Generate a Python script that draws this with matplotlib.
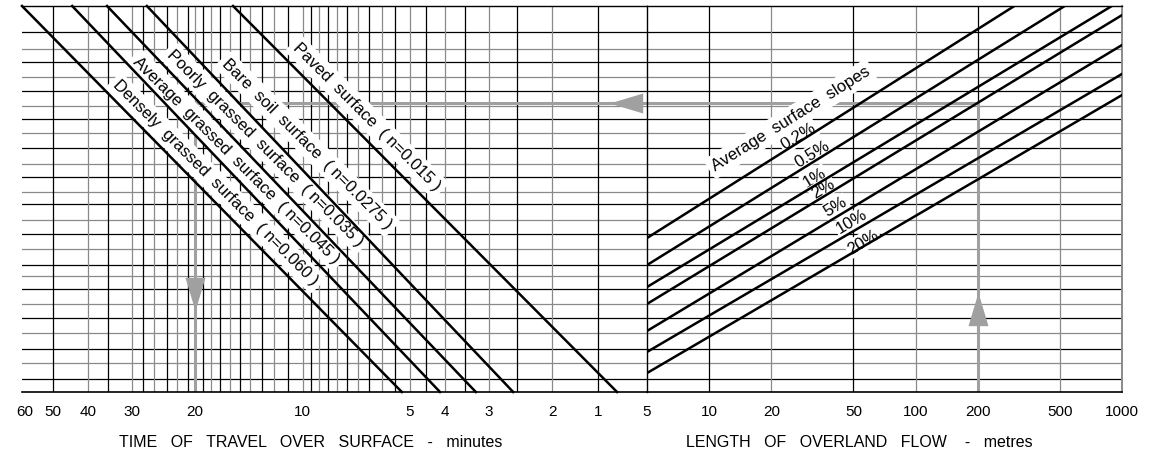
import numpy as np
import matplotlib.pyplot as plt

plt.rcParams['font.family'] = ['Liberation Sans', 'DejaVu Sans']

# ---- data read off the nomograph ----
# left panel: time of travel (minutes), log scale running right to left
time_limits = [61.1, 1.084]
time_ticks = [60, 50, 40, 30, 20, 10, 5, 4, 3, 2, 1.49]
time_tick_labels = ['60', '50', '40', '30', '20', '10', '5', '4', '3', '2', '1']
time_grid = [50, 40, 35, 30, 28, 26, 24, 22.5, 21, 20, 19, 18, 17, 16, 15, 14, 13,
             12, 11, 10, 9.5, 9, 8.5, 8, 7.5, 7, 6.5, 6, 5.5, 5, 4.5, 4, 3.5, 3,
             2.5, 2, 1.49]

# right panel: length of overland flow (metres)
length_limits = [5, 1000]
length_ticks = [5, 10, 20, 50, 100, 200, 500, 1000]
length_grid = [10, 20, 50, 100, 200, 500]

# shared (unlabelled) vertical scale
y_top = 26.7
rows = [0.9, 2.0, 3.0, 4.1, 5.1, 6.1, 7.1, 8.0, 8.8, 9.9, 10.9, 11.9, 13.0, 13.8,
        14.9, 15.8, 16.9, 17.9, 18.9, 19.8, 20.8, 21.8, 22.8, 23.7, 24.9]

# surface roughness lines (time at top edge -> time at bottom edge)
surfaces = ['Densely  grassed  surface  ( n=0.060 )',
            'Average  grassed  surface  ( n=0.045 )',
            'Poorly  grassed  surface  ( n=0.035 )',
            'Bare  soil  surface  ( n=0.0275 )',
            'Paved  surface  ( n=0.015 )']
surf_top_t = [61.1, 44.2, 35.3, 27.3, 15.66]
surf_bot_t = [5.27, 4.12, 3.27, 2.57, 1.315]
surf_lab_t = [17.5, 15.3, 12.7, 9.7, 6.6]
surf_lab_y = [14.45, 16.04, 16.87, 17.15, 19.02]

# average surface slope lines (start at 5 m)
slopes = ['0.2%', '0.5%', '1%', '2%', '5%', '10%', '20%']
slope_start_y = [10.65, 8.78, 7.26, 6.09, 4.22, 2.77, 1.31]
slope_end_L = [301, 528, 893, 1000, 1000, 1000, 1000]
slope_end_y = [26.7, 26.7, 26.7, 26.07, 24.0, 22.0, 20.54]
slope_lab_L = [27.1, 31.7, 32.4, 35.5, 41.1, 49.1, 55.6]
slope_lab_y = [17.70, 16.46, 14.80, 14.04, 12.79, 11.76, 10.37]
slopes_title_L, slopes_title_y = 24.8, 18.88

# worked example path
ex_length, ex_level, ex_time = 200, 20.0, 20

grey = '#a0a0a0'
gridgrey = '#8a8a8a'

fig = plt.figure(figsize=(11.57, 4.54), dpi=100)
W, H = 1157, 454
ax1 = fig.add_axes([22 / W, 62 / H, 625 / W, 386 / H])
ax2 = fig.add_axes([647 / W, 62 / H, 475 / W, 386 / H])

for ax in (ax1, ax2):
    ax.set_xscale('log')
    ax.set_ylim(0, y_top)
    ax.set_yticks([])
    ax.tick_params(axis='x', length=0, pad=9, labelsize=11)
    for i, r in enumerate(rows):
        ax.axhline(r, color='black' if i % 2 == 0 else gridgrey, lw=0.9, zorder=1)
    ax.spines['top'].set_linewidth(1.0)
    ax.spines['bottom'].set_linewidth(1.2)

ax1.set_xlim(*time_limits)
ax1.set_xticks(time_ticks)
ax1.set_xticklabels(time_tick_labels)
ax1.minorticks_off()
ax1.spines['left'].set_visible(False)
ax1.spines['right'].set_visible(False)
for i, t in enumerate(time_grid):
    ax1.axvline(t, color='black' if i % 2 == 0 else gridgrey, lw=0.9, zorder=1)

ax2.set_xlim(*length_limits)
ax2.set_xticks(length_ticks)
ax2.set_xticklabels([str(v) for v in length_ticks])
ax2.minorticks_off()
ax2.spines['left'].set_linewidth(1.0)
ax2.spines['right'].set_color(gridgrey)
ax2.spines['right'].set_linewidth(1.4)
for i, L in enumerate(length_grid):
    ax2.axvline(L, color='black' if i % 2 == 0 else gridgrey, lw=0.9, zorder=1)

# surface lines and labels
for name, t0, t1, tl, yl in zip(surfaces, surf_top_t, surf_bot_t, surf_lab_t, surf_lab_y):
    ax1.plot([t0, t1], [y_top, 0], color='black', lw=1.8, zorder=4, clip_on=False)
    ax1.text(tl, yl, name, rotation=-45, rotation_mode='anchor', ha='center',
             va='center', fontsize=12, zorder=3,
             bbox=dict(boxstyle='round,pad=0.25', fc='white', ec='none'))

# slope lines and labels
for s, y0, L1, y1, lL, ly in zip(slopes, slope_start_y, slope_end_L, slope_end_y,
                                 slope_lab_L, slope_lab_y):
    ax2.plot([5, L1], [y0, y1], color='black', lw=1.8, zorder=4)
    ax2.text(lL, ly, s, rotation=31, rotation_mode='anchor', ha='center',
             va='center', fontsize=12, zorder=3,
             bbox=dict(boxstyle='round,pad=0.1', fc='white', ec='none'))
ax2.text(slopes_title_L, slopes_title_y, 'Average  surface  slopes', rotation=32,
         rotation_mode='anchor', ha='center', va='center', fontsize=12, zorder=3,
         bbox=dict(boxstyle='round,pad=0.25', fc='white', ec='none'))

# worked example (grey path with arrowheads)
ax2.plot([ex_length, ex_length], [0, ex_level], color=grey, lw=2.2, zorder=2)
ax2.plot([length_limits[0], ex_length], [ex_level, ex_level], color=grey, lw=2.2, zorder=2)
ax1.plot([time_limits[1], ex_time], [ex_level, ex_level], color=grey, lw=2.2, zorder=2)
ax1.plot([ex_time, ex_time], [ex_level, 0], color=grey, lw=2.2, zorder=2)

up = [(0, 1), (0.6, -1), (-0.6, -1), (0, 1)]
down = [(0, -1), (0.6, 1), (-0.6, 1), (0, -1)]
left = [(-1, 0), (1, 0.6), (1, -0.6), (-1, 0)]
ax2.plot([ex_length], [5.77], marker=up, ms=24, color=grey, mec='none', zorder=5)
ax1.plot([ex_time], [6.78], marker=down, ms=24, color=grey, mec='none', zorder=5)
ax1.plot([1.238], [ex_level], marker=left, ms=24, color=grey, mec='none', zorder=5,
         clip_on=False)

ax1.text(0.462, -0.13, 'TIME   OF   TRAVEL   OVER   SURFACE   -   minutes',
         transform=ax1.transAxes, ha='center', va='center', fontsize=11.5)
ax2.text(0.448, -0.13, 'LENGTH   OF   OVERLAND   FLOW    -   metres',
         transform=ax2.transAxes, ha='center', va='center', fontsize=11.5)

plt.savefig('out.png', dpi=100)
